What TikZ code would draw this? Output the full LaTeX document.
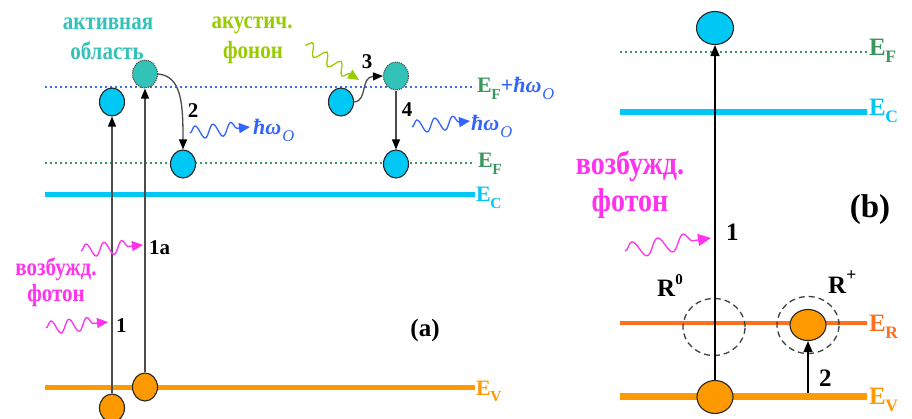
\documentclass[tikz,border=0pt]{standalone}
\usepackage{fontspec}
\setmainfont{Liberation Serif}[BoldFont={Liberation Serif Bold}, ItalicFont={Liberation Serif Italic}, BoldItalicFont={Liberation Serif Bold Italic}]
\usetikzlibrary{shapes.geometric,arrows.meta,decorations.pathmorphing}
\definecolor{cyanC}{RGB}{0,200,245}
\definecolor{tealC}{RGB}{51,194,184}
\definecolor{orangeV}{RGB}{255,153,0}
\definecolor{orangeR}{RGB}{255,112,30}
\definecolor{greenF}{RGB}{58,150,95}
\definecolor{blueL}{RGB}{60,110,230}
\definecolor{blueT}{RGB}{50,100,255}
\definecolor{pinkC}{RGB}{255,51,238}
\definecolor{limeC}{RGB}{153,204,0}
\newcommand\fs[1]{\fontsize{#1}{#1}\selectfont}
\newcommand\Esub[1]{E\kern-0.5pt\raisebox{-0.28em}{\scalebox{0.7}{#1}}}
\newcommand\hwO{\textit{ħω}\kern1pt\raisebox{-0.3em}{\scalebox{0.75}{\mdseries\itshape O}}}
\newcommand\tall[1]{\scalebox{1}[1.18]{#1}}
\tikzset{
  lab/.style={inner sep=0pt, font=\bfseries\fs{21}},
  labE/.style={inner sep=0pt, font=\bfseries\fs{22}},
  labB/.style={inner sep=0pt, font=\bfseries\fs{25}},
  cyr/.style={inner sep=0pt, font=\bfseries\fs{21}},
  cyrB/.style={inner sep=0pt, font=\bfseries\fs{28}},
  dotline/.style={line width=2pt, dash pattern=on 2pt off 3pt},
  elec/.style={ellipse, draw=black!85, line width=1.1pt, fill=cyanC, inner sep=0pt, minimum width=25pt, minimum height=28pt},
  exc/.style={ellipse, draw=black!70, densely dotted, line width=1.1pt, fill=tealC, inner sep=0pt, minimum width=25pt, minimum height=28pt},
  hole/.style={ellipse, draw=black!85, line width=1.1pt, fill=orangeV, inner sep=0pt, minimum width=25pt, minimum height=28pt},
  elecB/.style={elec, minimum width=37pt, minimum height=33pt},
  holeB/.style={hole, minimum width=36pt, minimum height=33pt},
  dcirc/.style={ellipse, draw=black!75, line width=1.3pt, dash pattern=on 6pt off 4pt, inner sep=0pt, minimum width=62pt, minimum height=57pt},
  garr/.style={draw=black!70, line width=1.3pt, -{Triangle[length=10pt,width=8pt,color=black]}},
  barr/.style={draw=black, line width=1.2pt, -{Triangle[length=11pt,width=9pt]}},
  wave/.style={line width=1.3pt, decorate, decoration={snake, segment length=18pt, amplitude=6.5pt, post length=11pt}, -{Triangle[length=11pt,width=10pt]}},
}
\begin{document}
\begin{tikzpicture}[x=1pt,y=1pt]
\path[use as bounding box, clip] (0,0) rectangle (912,-419);
\fill[white] (0,0) rectangle (912,-419);
% ---------- panel (a) levels ----------
\draw[dotline, blueL] (45,-87) -- (475,-87);
\draw[dotline, greenF] (45,-163) -- (475,-163);
\draw[line width=5pt, cyanC] (45,-195) -- (475,-195);
\draw[line width=5pt, orangeV] (45,-387) -- (475,-387);
\node[labE, anchor=base west] (lEFw) at (477,-93) {\color{greenF}\Esub{F}\color{blueT}+\hwO};
\node[labE, anchor=base west] (lEF) at (478,-168) {\color{greenF}\Esub{F}};
\node[labE, anchor=base west, text=cyanC] (lEC) at (476,-202) {\Esub{C}};
\node[labE, anchor=base west, text=orangeV] (lEV) at (476,-395) {\Esub{V}};
% ---------- panel (a) particles ----------
\node[elec] (ea1) at (112,-102) {};
\node[exc]  (ta1) at (145,-74) {};
\node[elec] (ea2) at (183,-164) {};
\node[hole] (ha1) at (112,-408) {};
\node[hole] (ha2) at (145,-387) {};
\node[elec] (ea3) at (341,-102) {};
\node[exc]  (ta2) at (396,-76) {};
\node[elec] (ea4) at (396,-164) {};
\draw[garr] (ha1) -- (ea1);
\draw[garr] (ha2) -- (ta1);
\draw[garr] (ta1.east) .. controls (182,-76) and (183,-105) .. (ea2.north);
\draw[garr] (ea3.east) .. controls (368,-101) and (360,-77) .. (ta2.west);
\draw[garr] (ta2) -- (ea4);
% ---------- panel (a) waves ----------
\coordinate (p1s) at (46,-328); \coordinate (p1e) at (108,-322);
\coordinate (p2s) at (81,-251); \coordinate (p2e) at (143,-245);
\coordinate (b1s) at (190,-133); \coordinate (b1e) at (250,-127);
\coordinate (b2s) at (412,-127); \coordinate (b2e) at (470,-121);
\coordinate (g1s) at (305,-45); \coordinate (g1e) at (359,-80);
\draw[wave, pinkC] (p1s) -- (p1e);
\draw[wave, pinkC] (p2s) -- (p2e);
\draw[wave, blueT] (b1s) -- (b1e);
\draw[wave, blueT] (b2s) -- (b2e);
\draw[wave, limeC, decoration={snake, segment length=17pt, amplitude=6pt, post length=11pt}] (g1s) -- (g1e);
% ---------- panel (a) labels ----------
\node[lab, anchor=base west] (t1) at (116,-332) {1};
\node[lab, anchor=base west] (t1a) at (149,-255) {1a};
\node[lab] (t2) at (193,-111) {2};
\node[lab] (t3) at (367,-62) {3};
\node[lab] (t4) at (407,-110) {4};
\node[labE, anchor=base west, text=blueT] (hw1) at (253,-135) {\hwO};
\node[labE, anchor=base west, text=blueT] (hw2) at (471,-131) {\hwO};
\node[cyr, text=tealC] (act1) at (108,-24) {\tall{активная}};
\node[cyr, text=tealC] (act2) at (107,-51) {\tall{область}};
\node[cyr, text=limeC] (ac1) at (252,-25) {\tall{акустич.}};
\node[cyr, text=limeC] (ac2) at (253,-53) {\tall{фонон}};
\node[cyr, text=pinkC] (vz1) at (56,-269) {\tall{возбужд.}};
\node[cyr, text=pinkC] (vz2) at (56,-296) {\tall{фотон}};
\node[inner sep=0pt, font=\bfseries\fs{25}] (pa) at (425,-330) {(a)};
% ---------- panel (b) levels ----------
\draw[dotline, greenF] (620,-52) -- (867,-52);
\draw[line width=6pt, cyanC] (620,-112) -- (867,-112);
\draw[line width=3.5pt, orangeR] (620,-323) -- (867,-323);
\draw[line width=7pt, orangeV] (620,-396) -- (867,-396);
\node[labB, anchor=base west, text=greenF] (bEF) at (869,-56) {\Esub{F}};
\node[labB, anchor=base west, text=cyanC] (bEC) at (869,-116) {\Esub{C}};
\node[labB, anchor=base west, text=orangeR] (bER) at (869,-331) {\Esub{R}};
\node[labB, anchor=base west, text=orangeV] (bEV) at (869,-404) {\Esub{V}};
% ---------- panel (b) particles ----------
\node[elecB] (eb) at (715,-28) {};
\node[dcirc] (r0) at (714,-327) {};
\node[dcirc] (rp) at (808,-325) {};
\node[holeB] (hb1) at (715,-397) {};
\node[holeB, minimum height=31pt] (hb2) at (808,-325) {};
\draw[barr] (hb1) -- (eb);
\coordinate (v2) at (808,-393);
\draw[barr] (v2) -- (hb2.south);
\coordinate (p3s) at (625,-251); \coordinate (p3e) at (711,-238);
\draw[wave, pinkC, decoration={snake, segment length=26pt, amplitude=8pt, post length=13pt}, -{Triangle[length=13pt,width=12pt]}] (p3s) -- (p3e);
% ---------- panel (b) labels ----------
\node[cyrB, text=pinkC] (vz3) at (630,-166) {\tall{возбужд.}};
\node[cyrB, text=pinkC] (vz4) at (630,-204) {\tall{фотон}};
\node[labB, anchor=base west] (tb1) at (726,-241) {1};
\node[labB, anchor=base west] (tb2) at (819,-386) {2};
\node[labB, anchor=base west] (R0) at (657,-297) {R\raisebox{0.5em}{\scalebox{0.6}{0}}};
\node[labB, anchor=base west] (Rp) at (828,-294) {R\raisebox{0.55em}{\scalebox{0.7}{+}}};
\node[inner sep=0pt, font=\bfseries\fs{33}] (pb) at (870,-210) {(b)};
\end{tikzpicture}
\end{document}
